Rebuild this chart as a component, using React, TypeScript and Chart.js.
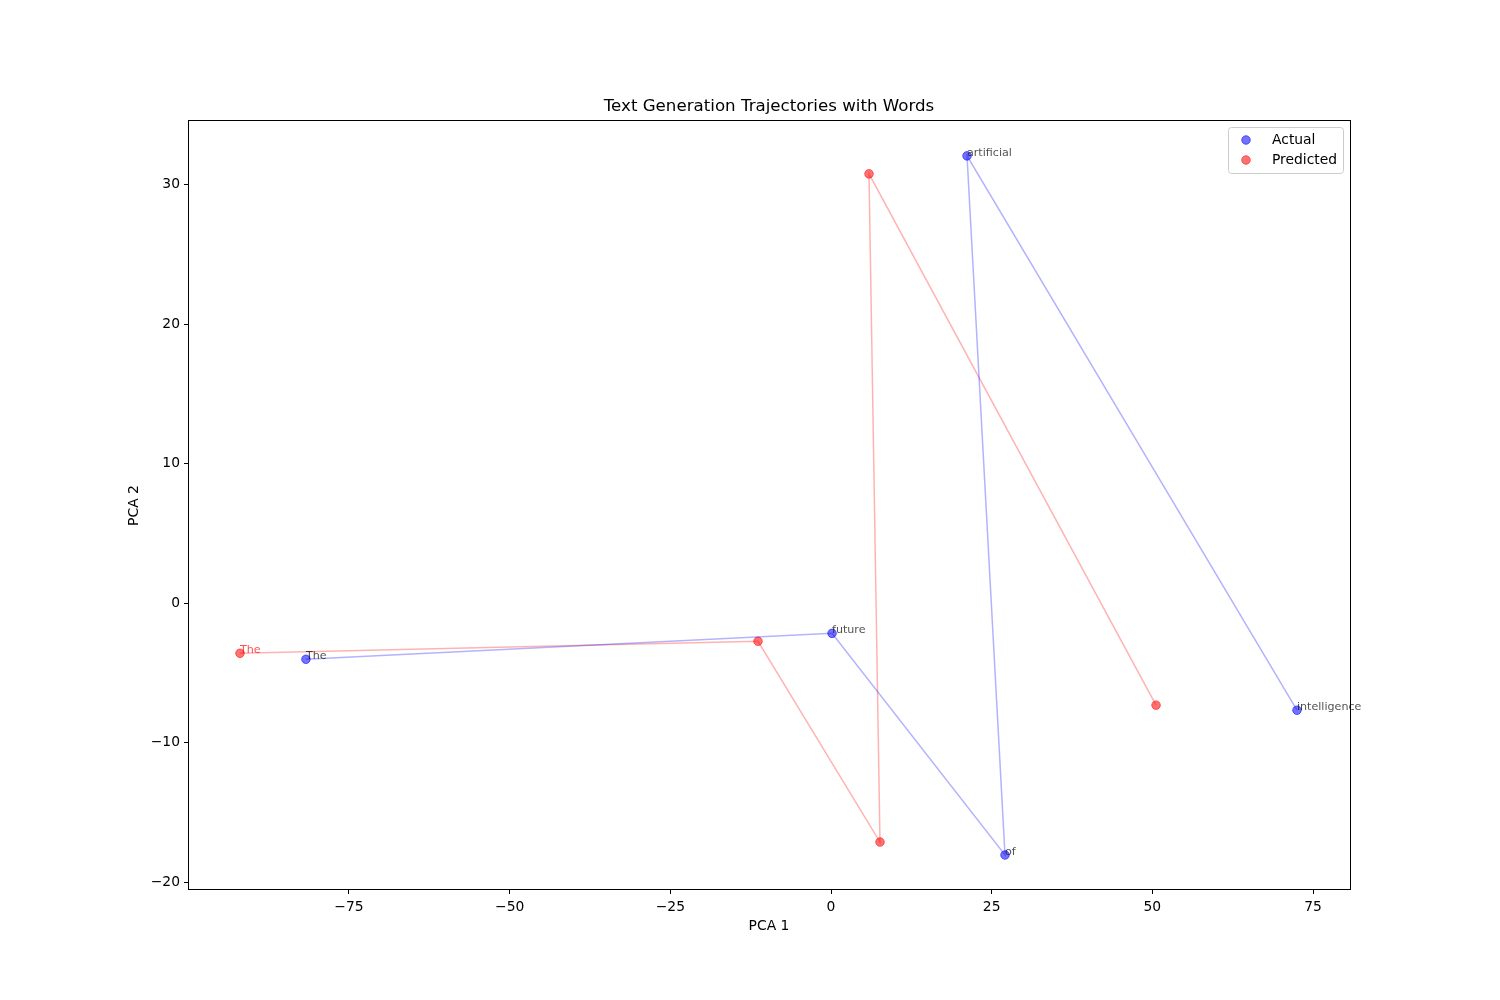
import React, { useEffect, useRef } from "react";
import { Chart, registerables } from "chart.js";

Chart.register(...registerables);

const actualWords = ["The", "future", "of", "artificial", "intelligence"];
const actualX = [-81.7, 0.16, 27.07, 21.16, 72.5];
const actualY = [-4.01, -2.15, -18.04, 32.08, -7.66];

const predictedWords = ["The", "", "", "", ""];
const predictedX = [-91.96, -11.36, 7.62, 5.91, 50.57];
const predictedY = [-3.58, -2.72, -17.11, 30.79, -7.3];

const xTicks = [-75, -50, -25, 0, 25, 50, 75];
const yTicks = [-20, -10, 0, 10, 20, 30];

const FONT = "'DejaVu Sans', sans-serif";

const fmt = (v: number) => (v < 0 ? "\u2212" + Math.abs(v) : String(v));

export default function App() {
  const ref = useRef<HTMLCanvasElement | null>(null);

  useEffect(() => {
    document.body.style.margin = "0";
    const canvas = ref.current;
    if (!canvas) return;

    const pts = (xs: number[], ys: number[]) => xs.map((x, i) => ({ x, y: ys[i] }));

    const overlay = {
      id: "overlay",
      afterDatasetsDraw(chart: any) {
        const ctx = chart.ctx;
        const xs = chart.scales.x;
        const ys = chart.scales.y;
        const area = chart.chartArea;
        ctx.save();
        // word labels
        ctx.font = `11.1px ${FONT}`;
        ctx.textAlign = "left";
        ctx.textBaseline = "alphabetic";
        actualWords.forEach((w, i) => {
          if (!w) return;
          ctx.fillStyle = "rgba(0,0,0,0.7)";
          ctx.fillText(w, xs.getPixelForValue(actualX[i]), ys.getPixelForValue(actualY[i]));
        });
        predictedWords.forEach((w, i) => {
          if (!w) return;
          ctx.fillStyle = "rgba(255,0,0,0.7)";
          ctx.fillText(w, xs.getPixelForValue(predictedX[i]), ys.getPixelForValue(predictedY[i]));
        });
        // title
        ctx.fillStyle = "#000";
        ctx.font = `16.67px ${FONT}`;
        ctx.textAlign = "center";
        ctx.textBaseline = "alphabetic";
        ctx.fillText("Text Generation Trajectories with Words", (area.left + area.right) / 2, 111);
        // axis titles
        ctx.font = `13.89px ${FONT}`;
        ctx.textBaseline = "middle";
        ctx.fillText("PCA 1", (area.left + area.right) / 2, 926);
        ctx.save();
        ctx.translate(134, (area.top + area.bottom) / 2);
        ctx.rotate(-Math.PI / 2);
        ctx.fillText("PCA 2", 0, 0);
        ctx.restore();
        // legend
        const lx = 1228, ly = 127, lw = 115, lh = 46;
        ctx.fillStyle = "rgba(255,255,255,0.8)";
        ctx.strokeStyle = "#cccccc";
        ctx.lineWidth = 1;
        ctx.beginPath();
        (ctx as any).roundRect(lx + 0.5, ly + 0.5, lw, lh, 3);
        ctx.fill();
        ctx.stroke();
        const items = [
          { label: "Actual", color: "rgba(0,0,255,0.55)" },
          { label: "Predicted", color: "rgba(255,0,0,0.55)" },
        ];
        ctx.font = `13.89px ${FONT}`;
        ctx.textAlign = "left";
        items.forEach((it, i) => {
          const cy = 140 + i * 20;
          ctx.fillStyle = it.color;
          ctx.strokeStyle = it.color;
          ctx.lineWidth = 1;
          ctx.beginPath();
          ctx.arc(1246, cy, 4.3, 0, Math.PI * 2);
          ctx.fill();
          ctx.stroke();
          ctx.fillStyle = "#000";
          ctx.textBaseline = "middle";
          ctx.fillText(it.label, 1272, cy);
        });
        // frame
        ctx.strokeStyle = "#000";
        ctx.lineWidth = 1;
        ctx.strokeRect(Math.round(area.left) + 0.5, Math.round(area.top) - 0.5, Math.round(area.right - area.left), Math.round(area.bottom - area.top));
        ctx.restore();
      },
    };

    const chart = new Chart(canvas, {
      type: "scatter",
      data: {
        datasets: [
          {
            label: "ActualLine",
            data: pts(actualX, actualY),
            showLine: true,
            borderColor: "rgba(0,0,255,0.3)",
            borderWidth: 1.5,
            pointRadius: 0,
            fill: false,
          },
          {
            label: "PredictedLine",
            data: pts(predictedX, predictedY),
            showLine: true,
            borderColor: "rgba(255,0,0,0.3)",
            borderWidth: 1.5,
            pointRadius: 0,
            fill: false,
          },
          {
            label: "Actual",
            data: pts(actualX, actualY),
            backgroundColor: "rgba(0,0,255,0.55)",
            borderColor: "rgba(0,0,255,0.55)",
            borderWidth: 1,
            pointRadius: 4.3,
          },
          {
            label: "Predicted",
            data: pts(predictedX, predictedY),
            backgroundColor: "rgba(255,0,0,0.55)",
            borderColor: "rgba(255,0,0,0.55)",
            borderWidth: 1,
            pointRadius: 4.3,
          },
        ],
      },
      options: {
        responsive: false,
        animation: false,
        layout: { padding: { top: 121, right: 150, left: 0, bottom: 0 } },
        plugins: {
          legend: { display: false },
          title: { display: false },
          tooltip: { enabled: false },
        },
        scales: {
          x: {
            type: "linear",
            min: -100.05,
            max: 80.75,
            afterBuildTicks: (s: any) => {
              s.ticks = xTicks.map((v) => ({ value: v }));
            },
            afterFit: (s: any) => {
              s.height = 110;
            },
            grid: { display: true, drawOnChartArea: false, tickLength: 4, color: "#000" },
            border: { display: false },
            ticks: {
              color: "#000",
              font: { family: FONT, size: 13.89 },
              padding: 5,
              maxRotation: 0,
              autoSkip: false,
              callback: (v: any) => fmt(Number(v)),
            },
          },
          y: {
            type: "linear",
            min: -20.55,
            max: 34.58,
            afterBuildTicks: (s: any) => {
              s.ticks = yTicks.map((v) => ({ value: v }));
            },
            afterFit: (s: any) => {
              s.width = 188;
            },
            grid: { display: true, drawOnChartArea: false, tickLength: 4, color: "#000" },
            border: { display: false },
            ticks: {
              color: "#000",
              font: { family: FONT, size: 13.89 },
              padding: 4,
              autoSkip: false,
              callback: (v: any) => fmt(Number(v)),
            },
          },
        },
      },
      plugins: [overlay],
    });

    return () => chart.destroy();
  }, []);

  return (
    <div style={{ width: 1500, height: 1000, background: "#fff" }}>
      <canvas ref={ref} width={1500} height={1000} />
    </div>
  );
}
